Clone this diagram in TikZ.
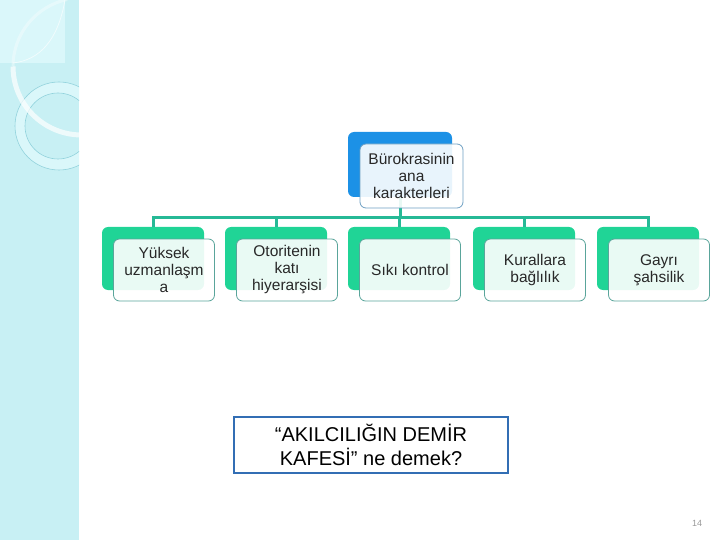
\documentclass[tikz,border=0pt]{standalone}
\usepackage{fontspec}
\setmainfont{Liberation Sans}
\definecolor{stripc}{RGB}{200,240,244}
\definecolor{stripl}{RGB}{218,247,250}
\definecolor{ringl}{RGB}{145,210,220}
\definecolor{connc}{RGB}{38,185,150}
\definecolor{greenb}{RGB}{32,212,150}
\definecolor{blueb}{RGB}{28,145,230}
\definecolor{frontg}{RGB}{90,165,155}
\definecolor{frontb}{RGB}{110,160,195}
\definecolor{boxb}{RGB}{50,110,180}
\definecolor{txt}{RGB}{40,40,40}
\tikzset{
  backg/.style={fill=greenb, rounded corners=6pt, minimum width=102pt, minimum height=63pt, inner sep=0pt},
  backb/.style={fill=blueb, rounded corners=6pt, minimum width=104pt, minimum height=65pt, inner sep=0pt},
  frontbox/.style={draw=frontg, line width=0.8pt, fill=white, fill opacity=0.9, text opacity=1, rounded corners=6pt, minimum width=101pt, minimum height=62pt, inner sep=0pt, align=center, text=txt, font=\fontsize{15.5}{17}\selectfont},
  conn/.style={draw=connc, line width=3pt},
}
\begin{document}
\begin{tikzpicture}[x=1pt,y=-1pt]
\useasboundingbox (0,0) rectangle (720,540);
% left decorative strip
\begin{scope}
\clip (0,0) rectangle (79,540);
\fill[stripc] (0,0) rectangle (79,540);
\fill[stripl] (0,0) rectangle (65,63);
\draw[white, opacity=0.6, line width=0.8pt] (65,0) .. controls (58,40) and (40,60) .. (13,63);
\fill[stripl, even odd rule] (59,126) circle (44) (58,126) circle (33);
\draw[ringl, line width=0.6pt] (59,126) circle (44);
\draw[ringl, line width=0.6pt] (58,126) circle (33);
\draw[white, opacity=0.7, line width=5pt] ([shift={(180:68.5)}]81.5,66.5) arc[start angle=180, end angle=88, radius=68.5];
\draw[white, opacity=0.35, line width=3pt] ([shift={(180:68.5)}]81.5,66.5) arc[start angle=180, end angle=258, radius=68.5];
\end{scope}
% back boxes
\node[backb] (tb) at (400,164.5) {};
\node[backg] (b1) at (153,258.5) {};
\node[backg] (b2) at (276,258.5) {};
\node[backg] (b3) at (399,258.5) {};
\node[backg] (b4) at (524,258.5) {};
\node[backg] (b5) at (648,258.5) {};
% connectors
\coordinate (bus) at (400,218);
\draw[conn] (tb.south) -- (tb.south |- bus);
\draw[conn] (b1.north) -- (b1.north |- bus) -- (b5.north |- bus) -- (b5.north);
\draw[conn] (b2.north) -- (b2.north |- bus);
\draw[conn] (b3.north) -- (b3.north |- bus);
\draw[conn] (b4.north) -- (b4.north |- bus);
% front boxes
\node[frontbox, draw=frontb, minimum width=103pt, minimum height=64pt] (t) at (411.5,176) {Bürokrasinin\\ana\\karakterleri};
\node[frontbox] (f1) at (164,270) {Yüksek\\uzmanlaşm\\a};
\node[frontbox] (f2) at (287,270) {Otoritenin\\katı\\hiyerarşisi};
\node[frontbox] (f3) at (410,270) {Sıkı kontrol};
\node[frontbox] (f4) at (535,270) {Kurallara\\bağlılık};
\node[frontbox] (f5) at (659,270) {Gayrı\\şahsilik};
% question box
\node[draw=boxb, line width=2.5pt, minimum width=274pt, minimum height=56pt, inner sep=0pt, align=center, font=\fontsize{20}{24}\selectfont, text=black] (q) at (371,445) {“AKILCILIĞIN DEMİR\\KAFESİ” ne demek?};
% page number
\node[text=gray!80, font=\fontsize{9}{10}\selectfont] (pn) at (697,523) {14};
\end{tikzpicture}
\end{document}
